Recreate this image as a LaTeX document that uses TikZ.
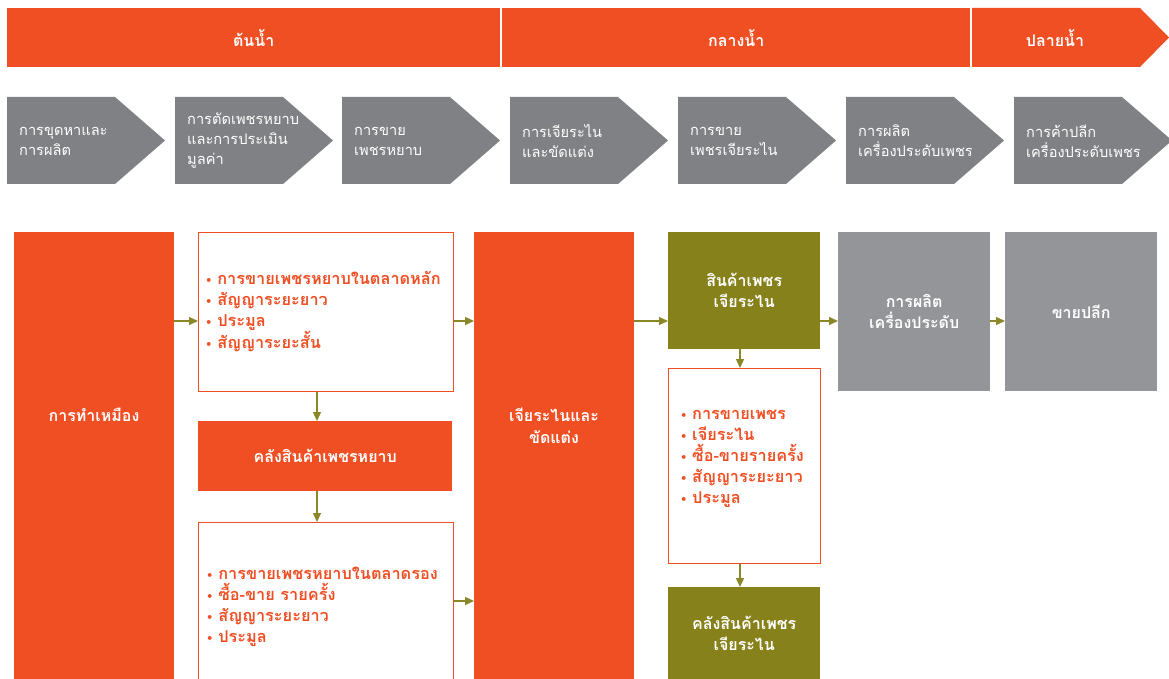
\documentclass[tikz,border=0pt]{standalone}
\usepackage{fontspec}
\usepackage{tikz}
\usetikzlibrary{positioning,calc,arrows.meta}
\newfontfamily\thaifont[Script=Thai]{Loma}
\definecolor{flame}{HTML}{F04E23}
\definecolor{chevgrey}{HTML}{808184}
\definecolor{boxgrey}{HTML}{939598}
\definecolor{olive}{HTML}{86811A}
\definecolor{arrowolive}{HTML}{8A8727}
\newcommand{\bul}{\raisebox{1.2pt}{\rmfamily\fontsize{13}{13}\selectfont\textbullet}\,}
\tikzset{
  fillbox/.style={fill=#1, text=white, inner sep=0pt, align=center, anchor=north west,
    font=\thaifont\bfseries\fontsize{16}{21}\selectfont},
  listbox/.style={draw=flame, line width=1pt, fill=white, inner sep=0pt, anchor=north west},
  listtxt/.style={text=flame, align=left, inner sep=0pt,
    font=\thaifont\bfseries\fontsize{16.3}{21}\selectfont},
  boxtxt/.style={text=white, align=center, inner sep=0pt,
    font=\thaifont\bfseries\fontsize{16}{21.5}\selectfont},
  chevtxt/.style={text=white, anchor=west, align=left, inner sep=0pt,
    font=\thaifont\fontsize{14.6}{20}\selectfont},
  flow/.style={draw=arrowolive, line width=1.3pt, -{Triangle[length=9pt,width=8pt]}},
}
\begin{document}
\begin{tikzpicture}[x=1pt,y=-1pt]
    \clip (0,0) rectangle (1169,679);
    \fill[white] (0,0) rectangle (1169,679);
    % Stream banner
    \node[fillbox=flame, minimum width=493pt, minimum height=59pt] (upstream) at (7,8) {ต้นน้ำ};
    \node[fillbox=flame, minimum width=468pt, minimum height=59pt] (midstream) at (502,8) {กลางน้ำ};
    \fill[flame] (972,8) -- (1140,8) -- (1169,37.5) -- (1140,67) -- (972,67) -- cycle;
    \node[boxtxt] (downstream) at (1055,38) {ปลายน้ำ};
    % Chain steps
    \foreach \cx/\ctxt [count=\i] in {7/{การขุดหาและ\\การผลิต},
        175/{การตัดเพชรหยาบ\\และการประเมิน\\มูลค่า}, 342/{การขาย\\เพชรหยาบ},
        510/{การเจียระไน\\และขัดแต่ง}, 678/{การขาย\\เพชรเจียระไน},
        846/{การผลิต\\เครื่องประดับเพชร}, 1014/{การค้าปลีก\\เครื่องประดับเพชร}} {
      \fill[chevgrey] (\cx,97) -- ++(108,0) -- ++(50,43.5) -- ++(-50,43.5) -- ++(-108,0) -- cycle;
      \node[chevtxt] (chev\i) at (\cx+12,141) {\ctxt};
    }
    % Mining
    \node[fillbox=flame, minimum width=160pt, minimum height=470pt] (mining) at (14,232) {};
    \node[boxtxt] (miningtxt) at (94,415) {การทำเหมือง};
    % Rough diamond trade
    \node[listbox, minimum width=255pt, minimum height=159pt] (salesa) at (198,232) {};
    \node[listtxt] (salesatxt) at (322,311.5) {\bul การขายเพชรหยาบในตลาดหลัก\\ \bul สัญญาระยะยาว\\
      \bul ประมูล\\ \bul สัญญาระยะสั้น};
    \node[fillbox=flame, minimum width=254pt, minimum height=70pt] (roughstock) at (198,421) {คลังสินค้าเพชรหยาบ};
    \node[listbox, minimum width=255pt, minimum height=180pt] (salesc) at (198,522) {};
    \node[listtxt] (salesctxt) at (321,607) {\bul การขายเพชรหยาบในตลาดรอง\\ \bul ซื้อ-ขาย รายครั้ง\\
      \bul สัญญาระยะยาว\\ \bul ประมูล};
    % Cutting and polishing
    \node[fillbox=flame, minimum width=160pt, minimum height=470pt] (polish) at (474,232) {};
    \node[boxtxt] (polishtxt) at (554,426) {เจียระไนและ\\ขัดแต่ง};
    % Polished diamonds
    \node[fillbox=olive, minimum width=152pt, minimum height=117pt] (cutgem) at (668,232) {สินค้าเพชร\\เจียระไน};
    \node[listbox, minimum width=152pt, minimum height=195pt] (salesd) at (668,368) {};
    \node[listtxt] (salesdtxt) at (741,458.5) {\bul การขายเพชร\\ \bul เจียระไน\\ \bul ซื้อ-ขายรายครั้ง\\
      \bul สัญญาระยะยาว\\ \bul ประมูล};
    \node[fillbox=olive, minimum width=152pt, minimum height=92pt] (cutstock) at (668,587) {คลังสินค้าเพชร\\เจียระไน};
    % Jewellery and retail
    \node[fillbox=boxgrey, minimum width=152pt, minimum height=159pt] (jewelry) at (838,232) {การผลิต\\เครื่องประดับ};
    \node[fillbox=boxgrey, minimum width=152pt, minimum height=159pt] (retail) at (1005,232) {ขายปลีก};
    % Flows
    \coordinate (rowa) at (0,321);
    \coordinate (rowc) at (0,601);
    \coordinate (cola) at (317,0);
    \coordinate (colr) at (740,0);
    \draw[flow] (mining.east |- rowa) -- (salesa.west |- rowa);
    \draw[flow] (salesa.east |- rowa) -- (polish.west |- rowa);
    \draw[flow] (salesc.east |- rowc) -- (polish.west |- rowc);
    \draw[flow] (salesa.south -| cola) -- (roughstock.north -| cola);
    \draw[flow] (roughstock.south -| cola) -- (salesc.north -| cola);
    \draw[flow] (polish.east |- rowa) -- (cutgem.west |- rowa);
    \draw[flow] (cutgem.east |- rowa) -- (jewelry.west |- rowa);
    \draw[flow] (jewelry.east |- rowa) -- (retail.west |- rowa);
    \draw[flow] (cutgem.south -| colr) -- (salesd.north -| colr);
    \draw[flow] (salesd.south -| colr) -- (cutstock.north -| colr);
\end{tikzpicture}
\end{document}
